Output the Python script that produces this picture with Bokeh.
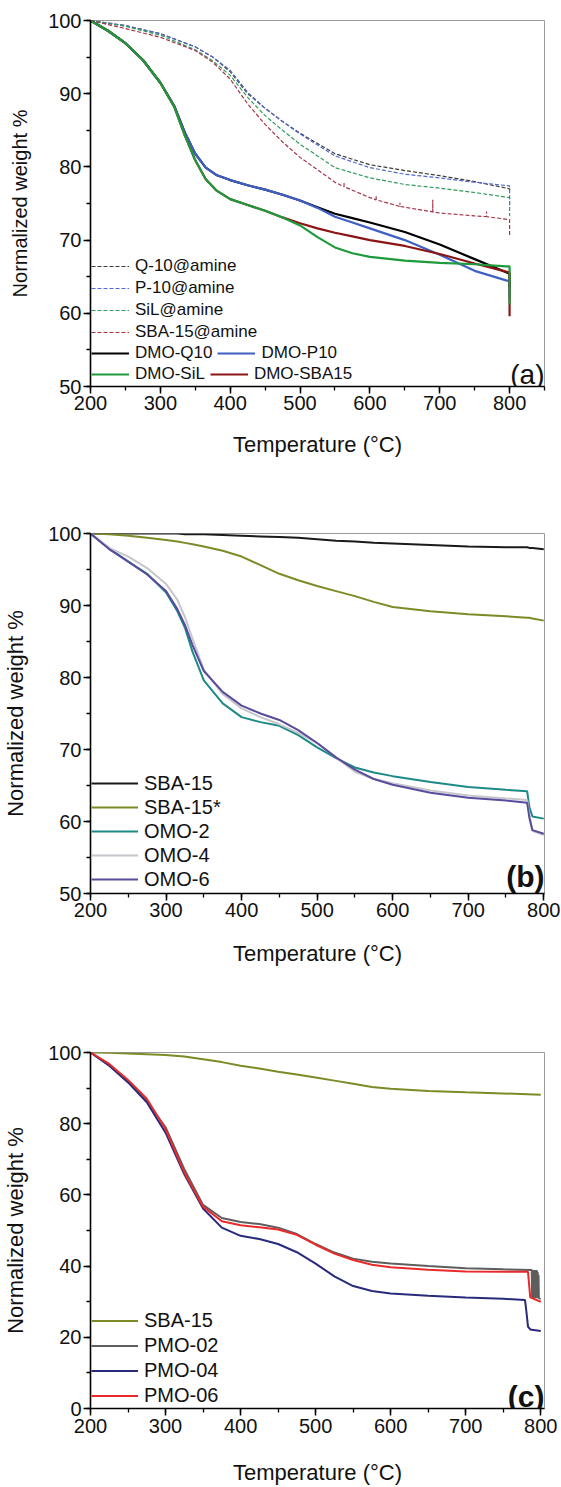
from bokeh.plotting import figure
from bokeh.layouts import column
from bokeh.models import Range1d, SingleIntervalTicker, Legend, LegendItem, Label
from bokeh.embed import file_html
from bokeh.resources import INLINE

FONT = "Liberation Sans"

# ---------------- Panel (a) data ----------------
t_a_solid = [200, 225, 250, 275, 300, 320, 335, 350, 365, 380, 400, 425, 450, 475, 500, 525, 550, 575, 600, 650, 700, 750, 795, 800, 800]
dmo_q10 = [100, 98.6, 96.9, 94.6, 91.5, 88.3, 84.7, 81.8, 79.9, 78.9, 78.2, 77.5, 76.9, 76.2, 75.4, 74.5, 73.6, 73.0, 72.4, 71.1, 69.4, 67.4, 65.6, 65.4, 63.5]
dmo_p10 = [100, 98.6, 96.9, 94.6, 91.5, 88.3, 84.7, 81.8, 79.9, 78.9, 78.2, 77.5, 76.9, 76.2, 75.4, 74.4, 73.2, 72.4, 71.6, 70.0, 68.0, 65.8, 64.5, 64.4, 62.0]
dmo_sil = [100, 98.6, 96.9, 94.6, 91.5, 88.2, 84.3, 80.9, 78.3, 76.8, 75.6, 74.8, 74.0, 73.1, 72.0, 70.4, 69.0, 68.2, 67.7, 67.2, 66.9, 66.7, 66.4, 66.4, 61.2]
dmo_sba15 = [100, 98.6, 96.9, 94.6, 91.5, 88.2, 84.3, 80.9, 78.3, 76.8, 75.6, 74.8, 74.0, 73.1, 72.3, 71.6, 71.0, 70.5, 70.0, 69.2, 68.1, 66.8, 65.7, 65.6, 59.6]

t_a_dash = [200, 250, 300, 350, 375, 400, 425, 450, 475, 500, 550, 600, 650, 700, 750, 800, 800]
q10_amine = [100, 99.3, 98.2, 96.4, 95.0, 93.0, 90.0, 88.0, 86.2, 84.6, 81.8, 80.3, 79.5, 78.8, 78.0, 77.0, 76.5]
p10_amine = [100, 99.3, 98.2, 96.4, 95.0, 93.2, 90.2, 88.0, 86.2, 84.5, 81.5, 79.9, 79.0, 78.5, 77.9, 77.4, 74.4]
sil_amine = [100, 99.2, 98.0, 96.0, 94.5, 92.5, 89.5, 87.0, 85.0, 83.1, 79.9, 78.5, 77.6, 77.1, 76.5, 75.8, 73.3]

t_a_sba = [200, 250, 300, 350, 375, 400, 425, 450, 475, 500, 550, 563, 563, 563, 600, 609, 609, 609, 643, 643, 643, 690, 690, 690, 700, 750, 767, 767, 767, 800, 800]
sba15_amine = [100, 98.9, 97.7, 95.9, 94.3, 92.0, 88.6, 85.8, 83.4, 81.3, 77.9, 77.3, 77.9, 77.3, 75.8, 75.5, 76.0, 75.5, 74.6, 75.1, 74.6, 73.85, 75.5, 73.85, 73.7, 73.3, 73.2, 73.9, 73.2, 72.8, 70.5]

# ---------------- Panel (b) data ----------------
t_b = [200, 225, 250, 275, 300, 315, 325, 335, 350, 375, 400, 425, 450, 475, 500, 525, 550, 575, 600, 650, 700, 750, 778, 781, 785, 800]
b_sba15 = [100, 100, 100, 100, 100, 100, 99.9, 99.9, 99.9, 99.8, 99.7, 99.6, 99.5, 99.4, 99.2, 99.0, 98.9, 98.7, 98.6, 98.4, 98.2, 98.1, 98.1, 98.0, 98.0, 97.8]
b_sba15s = [100, 99.9, 99.7, 99.4, 99.1, 98.9, 98.7, 98.5, 98.2, 97.6, 96.8, 95.6, 94.4, 93.5, 92.7, 92.0, 91.3, 90.5, 89.8, 89.2, 88.8, 88.5, 88.3, 88.3, 88.2, 87.9]
omo2 = [100, 97.9, 96.1, 94.4, 91.8, 89.2, 86.9, 83.6, 79.6, 76.4, 74.5, 73.8, 73.3, 72.0, 70.3, 68.8, 67.5, 66.8, 66.3, 65.5, 64.8, 64.4, 64.2, 62.0, 60.7, 60.4]
omo4 = [100, 98.0, 96.8, 95.2, 93.0, 90.8, 88.4, 85.4, 81.1, 77.7, 75.7, 74.5, 73.5, 72.3, 70.9, 68.9, 66.9, 65.9, 65.3, 64.3, 63.6, 63.2, 63.0, 61.0, 58.7, 58.1]
omo6 = [100, 97.8, 96.1, 94.3, 92.0, 89.5, 87.3, 84.5, 80.9, 78.0, 76.1, 75.0, 74.1, 72.7, 70.9, 68.9, 67.2, 65.9, 65.1, 64.0, 63.3, 62.9, 62.6, 60.5, 58.8, 58.3]

# ---------------- Panel (c) data ----------------
t_c_sba = [200, 225, 250, 275, 300, 325, 350, 375, 400, 425, 450, 475, 500, 525, 550, 575, 600, 650, 700, 750, 800]
c_sba15 = [100, 99.9, 99.7, 99.5, 99.3, 98.9, 98.1, 97.3, 96.3, 95.5, 94.6, 93.8, 93.0, 92.1, 91.2, 90.3, 89.8, 89.2, 88.8, 88.5, 88.1]
t_c_pmo02 = [200, 225, 250, 275, 300, 325, 350, 375, 400, 425, 450, 475, 500, 525, 550, 575, 600, 650, 700, 750, 788,
             788.5, 789, 789.5, 790, 790.5, 791, 791.5, 792, 792.5, 793, 793.5, 794, 794.5, 795, 795.5, 796, 796.5, 797, 797.5, 800]
pmo02 = [100, 96.4, 92.0, 86.3, 79.0, 67.2, 57.2, 53.5, 52.4, 51.8, 50.8, 49.0, 46.2, 43.8, 42.1, 41.2, 40.7, 40.0, 39.4, 39.1, 38.9,
         31.0, 38.9, 31.0, 38.9, 31.0, 38.9, 31.0, 38.9, 31.0, 38.9, 31.0, 38.9, 31.0, 38.7, 31.0, 38.3, 31.0, 37.5, 31.0, 30.8]
t_c = [200, 225, 250, 275, 300, 325, 350, 375, 400, 425, 450, 475, 500, 525, 550, 575, 600, 650, 700, 750, 779, 781, 783, 786, 800]
pmo04 = [100, 96.3, 91.6, 86.0, 77.5, 65.8, 56.2, 50.8, 48.5, 47.6, 46.2, 43.9, 40.7, 37.1, 34.4, 33.0, 32.3, 31.7, 31.2, 30.8, 30.5, 27.0, 23.0, 22.2, 21.8]
pmo06 = [100, 96.8, 92.3, 87.0, 78.5, 66.3, 56.7, 52.6, 51.5, 50.9, 50.3, 48.8, 46.0, 43.5, 41.7, 40.4, 39.7, 39.0, 38.5, 38.4, 38.4, 38.4, 38.4, 31.2, 30.0]


def make_panel(width, height, b_left, b_right, b_top, b_bottom, xr, yr, yint,
               ylab_size, ylab_standoff, xlab_standoff, tick_standoff):
    p = figure(width=width, height=height, x_range=Range1d(*xr), y_range=Range1d(*yr),
               min_border_left=b_left, min_border_right=b_right,
               min_border_top=b_top, min_border_bottom=b_bottom,
               output_backend="svg", toolbar_location=None)
    p.grid.visible = False
    p.outline_line_color = "#9a9a9a"
    p.outline_line_width = 1
    p.background_fill_color = "white"
    p.border_fill_color = "white"
    p.xaxis.ticker = SingleIntervalTicker(interval=100, num_minor_ticks=2)
    p.yaxis.ticker = SingleIntervalTicker(interval=yint, num_minor_ticks=2)
    for ax in (p.xaxis[0], p.yaxis[0]):
        ax.axis_line_color = "black"
        ax.axis_line_width = 1.6
        ax.major_tick_in = 0
        ax.major_tick_out = 7
        ax.minor_tick_in = 0
        ax.minor_tick_out = 4
        ax.major_tick_line_width = 1.5
        ax.minor_tick_line_width = 1.3
        ax.major_tick_line_color = "black"
        ax.minor_tick_line_color = "black"
        ax.major_label_text_font = FONT
        ax.major_label_text_font_size = "20px"
        ax.major_label_text_color = "#111111"
        ax.axis_label_text_font = FONT
        ax.axis_label_text_font_style = "normal"
        ax.axis_label_text_color = "#111111"
    p.xaxis.axis_label = "Temperature (°C)"
    p.xaxis.axis_label_text_font_size = "22px"
    p.xaxis.axis_label_standoff = xlab_standoff
    p.xaxis.major_label_standoff = tick_standoff
    p.yaxis.axis_label = "Normalized weight %"
    p.yaxis.axis_label_text_font_size = ylab_size
    p.yaxis.axis_label_standoff = ylab_standoff
    p.yaxis.major_label_standoff = 2
    return p


def add_legend(p, items, loc, font_size, glyph_w, row_h, orientation="vertical", spacing=0):
    leg = Legend(items=[LegendItem(label=l, renderers=[r]) for l, r in items],
                 location=loc, orientation=orientation,
                 label_text_font=FONT, label_text_font_size=font_size,
                 label_text_color="#111111",
                 glyph_width=glyph_w, glyph_height=row_h, label_height=row_h,
                 label_standoff=6, spacing=spacing, padding=0, margin=0,
                 background_fill_alpha=0, border_line_alpha=0)
    p.add_layout(leg)
    return leg


# ---------------- Panel (a) ----------------
pa = make_panel(561, 478, 89, 17, 20, 92, (200, 850), (50, 100), 10, "20px", 14, 19, 2)
dash = "4 2"
r_q10a = pa.line(t_a_dash, q10_amine, line_color="#3c3c3c", line_width=1.2, line_dash=dash)
r_p10a = pa.line(t_a_dash, p10_amine, line_color="#5468cc", line_width=1.2, line_dash=dash)
r_sila = pa.line(t_a_dash, sil_amine, line_color="#2f9d5a", line_width=1.2, line_dash=dash)
r_sbaa = pa.line(t_a_sba, sba15_amine, line_color="#a3354a", line_width=1.2, line_dash=dash)
r_q10 = pa.line(t_a_solid, dmo_q10, line_color="#000000", line_width=2.2)
r_p10 = pa.line(t_a_solid, dmo_p10, line_color="#3f5fc4", line_width=2.2)
r_sba = pa.line(t_a_solid, dmo_sba15, line_color="#8b1414", line_width=2.2)
r_sil = pa.line(t_a_solid, dmo_sil, line_color="#1e9a3c", line_width=2.2)
add_legend(pa, [("Q-10@amine", r_q10a), ("P-10@amine", r_p10a), ("SiL@amine", r_sila),
                ("SBA-15@amine", r_sbaa)], (1, 43), "17px", 38, 22)
add_legend(pa, [("DMO-Q10", r_q10), ("DMO-P10", r_p10)], (1, 22), "17px", 38, 22,
           orientation="horizontal", spacing=5)
add_legend(pa, [("DMO-SiL", r_sil), ("DMO-SBA15", r_sba)], (1, 1), "17px", 38, 22,
           orientation="horizontal", spacing=5)
pa.add_layout(Label(x=850, y=51.7, text="(a)", text_align="right", text_baseline="alphabetic",
                    text_font=FONT, text_font_size="28px", text_color="#111111"))

# ---------------- Panel (b) ----------------
pb = make_panel(561, 490, 89, 17, 55, 67, (200, 801), (50, 100), 10, "22px", 17, 21, 2)
rb1 = pb.line(t_b, b_sba15, line_color="#1a1a1a", line_width=2)
rb2 = pb.line(t_b, b_sba15s, line_color="#7d8a26", line_width=2)
rb3 = pb.line(t_b, omo2, line_color="#1c8a86", line_width=2)
rb4 = pb.line(t_b, omo4, line_color="#c6c6cc", line_width=2)
rb5 = pb.line(t_b, omo6, line_color="#5a4c9c", line_width=2)
add_legend(pb, [("SBA-15", rb1), ("SBA-15*", rb2), ("OMO-2", rb3), ("OMO-4", rb4), ("OMO-6", rb5)],
           (1, 2), "20px", 47, 24)
pb.add_layout(Label(x=801, y=52.4, text="(b)", text_align="right", text_baseline="alphabetic",
                    text_font=FONT, text_font_size="30px", text_font_style="bold", text_color="#111111"))

# ---------------- Panel (c) ----------------
pc = make_panel(561, 519, 89, 17, 84, 71, (200, 805), (0, 100), 20, "22px", 17, 24, 3)
rc1 = pc.line(t_c_sba, c_sba15, line_color="#7d8a26", line_width=2)
rc2 = pc.line(t_c_pmo02, pmo02, line_color="#5e5e5e", line_width=2)
rc3 = pc.line(t_c, pmo04, line_color="#2a2a7c", line_width=2)
rc4 = pc.line(t_c, pmo06, line_color="#ea2a2a", line_width=2)
add_legend(pc, [("SBA-15", rc1), ("PMO-02", rc2), ("PMO-04", rc3), ("PMO-06", rc4)],
           (1, 0), "20px", 47, 25)
pc.add_layout(Label(x=805, y=3.4, text="(c)", text_align="right", text_baseline="alphabetic",
                    text_font=FONT, text_font_size="30px", text_font_style="bold", text_color="#111111"))

layout = column(pa, pb, pc, spacing=0)
open("out.html", "w").write(file_html(layout, INLINE))
